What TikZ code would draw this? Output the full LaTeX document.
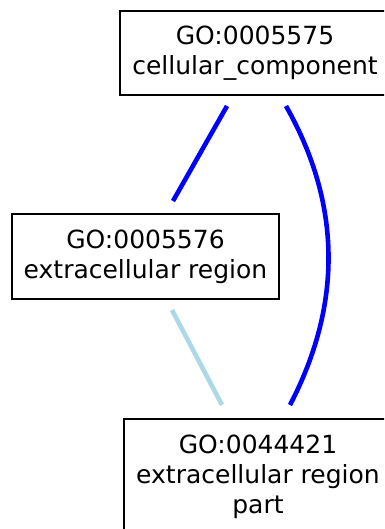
\documentclass[tikz,border=0pt]{standalone}
\usepackage{fontspec}
\setmainfont{DejaVu Sans}
\definecolor{edgeblue}{RGB}{0,0,255}
\definecolor{edgelight}{RGB}{173,216,230}
\begin{document}
\begin{tikzpicture}[x=1pt,y=-1pt,
  term/.style={draw=black, line width=2pt, fill=white, inner sep=0pt,
    align=center, font=\fontsize{25}{30}\selectfont},
  isa/.style={draw=edgeblue, line width=4.6pt},
  partof/.style={draw=edgelight, line width=4.6pt}]
  \useasboundingbox (0,0) rectangle (384,529);
  \clip (0,0) rectangle (384,529);

  % GO terms
  \node[term, minimum width=270pt, minimum height=84pt] (cc) at (255,53)
    {GO:0005575\\cellular\_component};
  \node[term, minimum width=267pt, minimum height=85pt] (er) at (145.5,256.5)
    {GO:0005576\\extracellular region};
  \node[term, minimum width=268pt, minimum height=116pt, anchor=north] (erp) at (258,418)
    {GO:0044421\\extracellular region\\part};

  % relations
  \draw[isa] ([shift={(-28,10)}]cc.south) -- ([shift={(27.5,-12)}]er.north);
  \draw[isa] ([shift={(31,10)}]cc.south)
    .. controls (342,205) and (342,305) .. ([shift={(32,-13)}]erp.north);
  \draw[partof] ([shift={(26.5,10)}]er.south) -- ([shift={(-36,-13)}]erp.north);
\end{tikzpicture}
\end{document}
